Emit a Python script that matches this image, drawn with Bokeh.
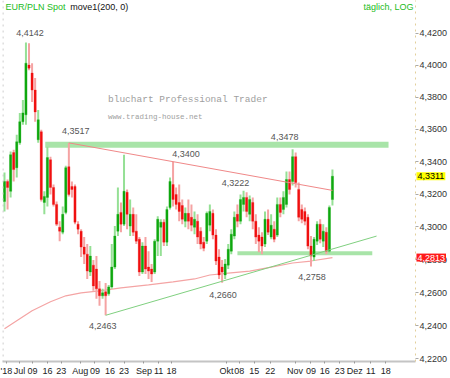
import math
from bokeh.plotting import figure
from bokeh.models import (Range1d, FixedTicker, CustomJSTickFormatter, Label, Span,
                          ColumnDataSource, LogAxis, LinearAxis)
from bokeh.embed import file_html
from bokeh.resources import INLINE

# ---- daily EUR/PLN candles (open, high, low, close) ----
opens = [4.3156, 4.3279, 4.3218, 4.3457, 4.3364, 4.3518, 4.3648, 4.3691, 4.4001, 4.3951,
         4.3845, 4.3536, 4.3586, 4.3150, 4.3181, 4.3413, 4.3242, 4.3138, 4.2998, 4.2968,
         4.3089, 4.3370, 4.3248, 4.3248, 4.3017, 4.2974, 4.2877, 4.2834, 4.2725, 4.2767,
         4.2743, 4.2623, 4.2581, 4.2605, 4.2593, 4.2635, 4.2755, 4.2974, 4.3089, 4.3017,
         4.3212, 4.3005, 4.3077, 4.2974, 4.2925, 4.2725, 4.2883, 4.2755, 4.2743, 4.2725,
         4.2913, 4.2998, 4.3029, 4.2907, 4.3119, 4.3260, 4.3199, 4.3150, 4.3131, 4.3035,
         4.3083, 4.3059, 4.2998, 4.3035, 4.2974, 4.2907, 4.2913, 4.3011, 4.3083, 4.2950,
         4.2816, 4.2755, 4.2707, 4.2767, 4.2852, 4.2944, 4.3077, 4.3035, 4.3138, 4.3181,
         4.3077, 4.3150, 4.3035, 4.2950, 4.2938, 4.2895, 4.3047, 4.2938, 4.2986, 4.2950,
         4.3138, 4.3107, 4.3138, 4.3291, 4.3279, 4.3432, 4.3230, 4.3107, 4.3095, 4.3059,
         4.2883, 4.2816, 4.2913, 4.3017, 4.2913, 4.2968, 4.2852, 4.3168]
highs = [4.3334, 4.3291, 4.3463, 4.3475, 4.3567, 4.3703, 4.3783, 4.4142, 4.4138, 4.4013,
         4.3920, 4.3721, 4.3598, 4.3218, 4.3493, 4.3432, 4.3260, 4.3156, 4.3035, 4.3125,
         4.3376, 4.3517, 4.3279, 4.3260, 4.3035, 4.2986, 4.2938, 4.2895, 4.2883, 4.2798,
         4.2822, 4.2671, 4.2623, 4.2659, 4.2647, 4.2895, 4.3005, 4.3242, 4.3150, 4.3444,
         4.3230, 4.3168, 4.3119, 4.3077, 4.2938, 4.2907, 4.2938, 4.2852, 4.2774, 4.2925,
         4.3065, 4.3047, 4.3047, 4.3125, 4.3303, 4.3400, 4.3242, 4.3260, 4.3168, 4.3119,
         4.3168, 4.3138, 4.3095, 4.3077, 4.2998, 4.2938, 4.3095, 4.3138, 4.3107, 4.2986,
         4.2864, 4.2798, 4.2804, 4.2895, 4.2986, 4.3095, 4.3138, 4.3199, 4.3222, 4.3212,
         4.3193, 4.3181, 4.3077, 4.2998, 4.2968, 4.3095, 4.3107, 4.3077, 4.3035, 4.3181,
         4.3181, 4.3218, 4.3340, 4.3340, 4.3478, 4.3457, 4.3273, 4.3138, 4.3119, 4.3077,
         4.2944, 4.2938, 4.3035, 4.3047, 4.3017, 4.2998, 4.3131, 4.3352]
lows = [4.3095, 4.3107, 4.3181, 4.3279, 4.3303, 4.3506, 4.3629, 4.3629, 4.3969, 4.3771,
        4.3648, 4.3518, 4.3156, 4.3077, 4.3125, 4.3199, 4.3125, 4.3005, 4.2913, 4.2956,
        4.3077, 4.3187, 4.3181, 4.3017, 4.2956, 4.2816, 4.2774, 4.2683, 4.2701, 4.2611,
        4.2563, 4.2520, 4.2563, 4.2463, 4.2581, 4.2623, 4.2743, 4.2944, 4.2968, 4.3005,
        4.2986, 4.2944, 4.2944, 4.2895, 4.2701, 4.2713, 4.2713, 4.2683, 4.2665, 4.2713,
        4.2822, 4.2822, 4.2883, 4.2883, 4.3107, 4.3125, 4.3107, 4.3035, 4.3017, 4.2998,
        4.2986, 4.2974, 4.2956, 4.2895, 4.2864, 4.2852, 4.2895, 4.2974, 4.2925, 4.2768,
        4.2683, 4.2660, 4.2683, 4.2743, 4.2834, 4.2925, 4.2998, 4.3017, 4.3095, 4.3059,
        4.3035, 4.2986, 4.2895, 4.2846, 4.2834, 4.2877, 4.2950, 4.2925, 4.2907, 4.2938,
        4.3059, 4.3077, 4.3119, 4.3199, 4.3254, 4.3242, 4.3035, 4.3023, 4.3011, 4.2864,
        4.2758, 4.2792, 4.2889, 4.2901, 4.2877, 4.2834, 4.2840, 4.3131]
closes = [4.3279, 4.3242, 4.3444, 4.3352, 4.3524, 4.3648, 4.3703, 4.4013, 4.3982, 4.3845,
          4.3709, 4.3660, 4.3168, 4.3187, 4.3426, 4.3242, 4.3138, 4.3017, 4.2974, 4.3077,
          4.3364, 4.3199, 4.3230, 4.3029, 4.2986, 4.2877, 4.2834, 4.2731, 4.2822, 4.2641,
          4.2623, 4.2581, 4.2599, 4.2581, 4.2635, 4.2755, 4.2944, 4.3077, 4.3017, 4.3218,
          4.3077, 4.3077, 4.2968, 4.2913, 4.2725, 4.2883, 4.2743, 4.2731, 4.2713, 4.2913,
          4.3047, 4.3029, 4.2907, 4.3107, 4.3279, 4.3168, 4.3138, 4.3095, 4.3047, 4.3083,
          4.3035, 4.3011, 4.3047, 4.2938, 4.2895, 4.2870, 4.3083, 4.3095, 4.2950, 4.2792,
          4.2707, 4.2725, 4.2774, 4.2864, 4.2956, 4.3059, 4.3035, 4.3168, 4.3181, 4.3095,
          4.3168, 4.3035, 4.2938, 4.2913, 4.2883, 4.3047, 4.2968, 4.3011, 4.2925, 4.3138,
          4.3089, 4.3181, 4.3291, 4.3230, 4.3432, 4.3273, 4.3059, 4.3047, 4.3035, 4.2883,
          4.2822, 4.2925, 4.3017, 4.2925, 4.2974, 4.2852, 4.3119, 4.3311]

# 200-day moving average, read at selected candles
ma_idx = [0, 5, 9, 15, 20, 25, 31, 38, 47, 55, 62, 67, 73, 80, 87, 94, 100, 107]
ma_val = [4.2382, 4.2442, 4.2490, 4.2545, 4.2581, 4.2599, 4.2611, 4.2629, 4.2647, 4.2665,
          4.2683, 4.2707, 4.2719, 4.2731, 4.2755, 4.2780, 4.2792, 4.2813]

# trend lines and zones
res_idx = [21, 107]
res_val = [4.3517, 4.3224]
sup_idx = [33, 121.4]
sup_val = [4.2463, 4.2944]
upper_zone_idx = [13.3, 125.3]
upper_zone_val = 4.3505
lower_zone_idx = [76, 120]
lower_zone_val = 4.2840

# marked extremes: (candle, value, text, dx px, dy px)
marks = [(7, 4.4142, "4,4142", 4, -10), (21, 4.3517, "4,3517", 7, -12),
         (55, 4.3400, "4,3400", 13, -8), (78, 4.3222, "4,3222", -8, -8),
         (94, 4.3478, "4,3478", -8, -12), (33, 4.2463, "4,2463", -3, 11),
         (71, 4.2660, "4,2660", 1, 12), (100, 4.2758, "4,2758", 1, 10)]

last_close = 4.3311
ma_last = 4.2813

ytick_vals = [4.22, 4.24, 4.26, 4.28, 4.30, 4.32, 4.34, 4.36, 4.38, 4.40, 4.42]
xtick_pos = [0.65, 4.9, 9.1, 14.0, 18.5, 24.7, 29.5, 34.4, 39.0, 45.5, 50.3, 54.5,
             72.4, 76.6, 81.5, 86.7, 94.8, 100.0, 104.5, 109.4, 114.3, 119.5, 124.4]
xtick_labels = ["'18", "Jul", "09", "16", "23", "Aug", "09", "16", "23", "Sep", "11", "18",
                "Okt", "08", "15", "22", "Nov", "09", "16", "23", "Dez", "11", "18"]

PXU = 3.08     # px per candle
PXL = 7071.0   # px per ln unit

def shift(i, price, dx, dy):
    return i + dx / PXU, price * math.exp(-dy / PXL)

FONT = "Liberation Sans"
GREEN_TXT = "#22bb22"

p = figure(width=450, height=378, x_range=Range1d(-0.65, 134.1),
           y_range=Range1d(4.2185, 4.4407), y_axis_type="log", y_axis_location="right",
           output_backend="svg", toolbar_location=None, title=None,
           min_border_left=2, min_border_right=33, min_border_top=0, min_border_bottom=15)
p.xgrid.visible = False
p.ygrid.visible = False
p.outline_line_color = None
p.background_fill_color = "white"
p.border_fill_color = "white"

# inner right axis: dotted border line + tick marks only
ya = p.yaxis[0]
ya.ticker = FixedTicker(ticks=ytick_vals)
ya.formatter = CustomJSTickFormatter(code="return '';")
ya.major_label_text_font_size = "0px"
ya.major_label_standoff = 0
ya.major_tick_out = 3
ya.major_tick_in = 0
ya.minor_tick_out = 0
ya.minor_tick_in = 0
ya.major_tick_line_color = "#aaaaaa"
ya.axis_line_color = "#e2cf9a"
ya.axis_line_dash = "dotted"

# inner bottom axis: grey line + tick marks only
xa = p.xaxis[0]
xa.ticker = FixedTicker(ticks=xtick_pos)
xa.formatter = CustomJSTickFormatter(code="return '';")
xa.major_label_text_font_size = "0px"
xa.major_label_standoff = 0
xa.axis_line_color = "#c4c4c4"
xa.axis_line_width = 2
xa.major_tick_in = 0
xa.major_tick_out = 2
xa.major_tick_line_color = "#999999"
xa.minor_tick_out = 0
xa.minor_tick_in = 0

p.add_layout(Span(location=-0.5, dimension="height", line_color="#bbbbbb",
                  line_dash="dotted", line_width=1))

# price badges on the axis (kept in side panels so they are not clipped)
bx, _ = shift(0, 4.42, 414, 0)
badge_close = Label(x=bx, y=last_close, text="4,3311", text_align="left", text_baseline="middle",
                    text_font=FONT, text_font_size="9px", text_color="#000000",
                    background_fill_color="#ffff00", level="overlay")
badge_ma = Label(x=bx, y=ma_last, text="4,2813", text_align="left", text_baseline="middle",
                 text_font=FONT, text_font_size="9px", text_color="#ffffff",
                 background_fill_color="#ff1a1a", level="overlay")
for b in (badge_close, badge_ma):
    try:
        b.padding = 1
    except AttributeError:
        pass
p.add_layout(badge_close, "right")
p.add_layout(badge_ma, "below")

# outer axes carrying the tick labels
ya2 = LogAxis(ticker=FixedTicker(ticks=ytick_vals),
              formatter=CustomJSTickFormatter(code="return tick.toFixed(4).replace('.', ',');"),
              axis_line_color=None, major_tick_line_color=None, minor_tick_line_color=None,
              major_tick_out=0, major_tick_in=0, minor_tick_out=0, minor_tick_in=0,
              major_label_standoff=-28, major_label_text_font_size="9px",
              major_label_text_font=FONT, major_label_text_color="#333333")
p.add_layout(ya2, "right")

xa2 = LinearAxis(ticker=FixedTicker(ticks=xtick_pos),
                 formatter=CustomJSTickFormatter(args=dict(pos=xtick_pos, labs=xtick_labels), code="""
for (let k = 0; k < pos.length; k++) { if (Math.abs(pos[k] - tick) < 1e-6) return labs[k]; }
return '';"""),
                 axis_line_color=None, major_tick_line_color=None, minor_tick_line_color=None,
                 major_tick_out=0, major_tick_in=0, minor_tick_out=0, minor_tick_in=0,
                 major_label_standoff=-6, major_label_text_font_size="9px",
                 major_label_text_font=FONT, major_label_text_color="#222222")
p.add_layout(xa2, "below")

# zones
p.line(upper_zone_idx, [upper_zone_val] * 2, line_width=6, line_color="#a8e4a8")
p.line(lower_zone_idx, [lower_zone_val] * 2, line_width=4, line_color="#a8e4a8")

# moving average
p.line(ma_idx, ma_val, line_color="#f4a4a4", line_width=1.2)

# candles
n = len(opens)
idx = list(range(n))
up = [c >= o for o, c in zip(opens, closes)]
src = ColumnDataSource(dict(
    x=idx, high=highs, low=lows,
    top=[max(o, c) for o, c in zip(opens, closes)],
    bottom=[min(o, c) for o, c in zip(opens, closes)],
    wick=["#95e095" if u else "#f5a3a3" for u in up],
    body=["#0fa80f" if u else "#f01010" for u in up],
))
p.segment(x0="x", y0="low", x1="x", y1="high", line_color="wick", line_width=2, source=src)
p.vbar(x="x", width=0.72, top="top", bottom="bottom", fill_color="body",
       line_color="body", line_width=0.3, source=src)

# trend lines
p.line(res_idx, res_val, line_color="#f08888", line_width=1)
p.line(sup_idx, sup_val, line_color="#80d080", line_width=1)

# marks
for i, v, t, dx, dy in marks:
    lx, ly = shift(i, v, dx, dy)
    p.add_layout(Label(x=lx, y=ly, text=t, text_align="center", text_baseline="middle",
                       text_font=FONT, text_font_size="9px", text_color="#555555"))

# watermark
wx, wy = shift(0, 4.42, 104, 67)
p.add_layout(Label(x=wx, y=wy, text="bluchart Professional Trader", text_align="left",
                   text_baseline="middle", text_font="Liberation Mono", text_font_size="9.5px",
                   text_color="#a0a0a0"))
wx2, wy2 = shift(0, 4.42, 104, 84)
p.add_layout(Label(x=wx2, y=wy2, text="www.trading-house.net", text_align="left",
                   text_baseline="middle", text_font="Liberation Mono", text_font_size="7.5px",
                   text_color="#a0a0a0"))

# header texts (top strip of the frame)
hx, hy = shift(0, 4.42, 1, -27)
p.add_layout(Label(x=hx, y=hy, text="EUR/PLN Spot", text_align="left", text_baseline="middle",
                   text_font=FONT, text_font_size="9px", text_color=GREEN_TXT))
hx2, _ = shift(0, 4.42, 66, -27)
p.add_layout(Label(x=hx2, y=hy, text="move1(200, 0)", text_align="left", text_baseline="middle",
                   text_font=FONT, text_font_size="9px", text_color="#111111"))
hx3, _ = shift(0, 4.42, 411, -27)
p.add_layout(Label(x=hx3, y=hy, text="täglich, LOG", text_align="right", text_baseline="middle",
                   text_font=FONT, text_font_size="9px", text_color=GREEN_TXT))

open("out.html", "w").write(file_html(p, INLINE))
